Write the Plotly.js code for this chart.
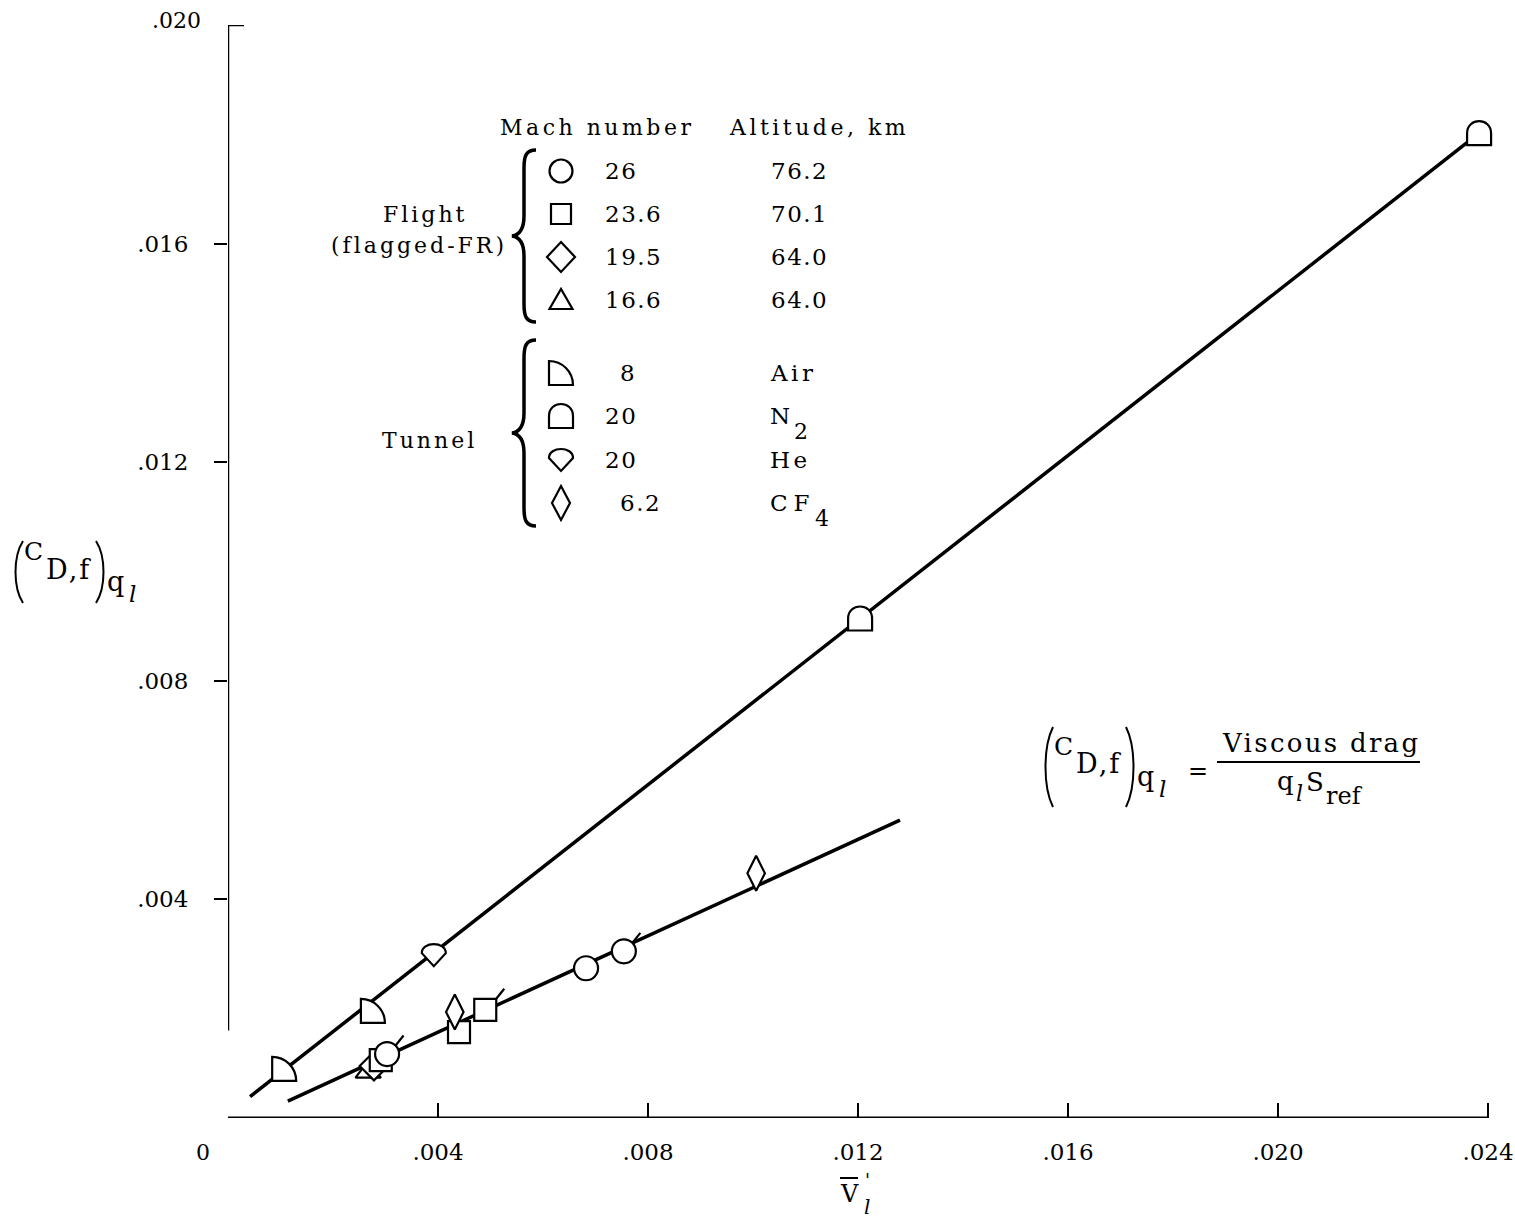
<!DOCTYPE html>
<html><head><meta charset="utf-8">
<script src="https://cdn.plot.ly/plotly-3.0.1.min.js"></script>
<style>html,body{margin:0;padding:0;background:#fff;}</style>
</head><body>
<div id="chart" style="width:1515px;height:1227px;"></div>
<script>
// ---------------- DATA ----------------
// Flight (flagged-FR) series: x = V'_l, y = (C_D,f)_ql
const flightM26_x   = [0.00303, 0.00682, 0.00754];
const flightM26_y   = [0.00117, 0.00274, 0.00305];
const flightM26_flag = [true, false, true];
const flightM236_x  = [0.00291, 0.00440, 0.00490];
const flightM236_y  = [0.00106, 0.00157, 0.00198];
const flightM236_flag = [false, false, true];
const flightM195_x  = [0.00278];
const flightM195_y  = [0.00095];
const flightM166_x  = [0.00267];
const flightM166_y  = [0.00084];
// Tunnel series
const tunnelAir_x = [0.00107, 0.00276];
const tunnelAir_y = [0.00090, 0.00196];
const tunnelN2_x  = [0.01204, 0.02383];
const tunnelN2_y  = [0.00914, 0.01802];
const tunnelHe_x  = [0.00392];
const tunnelHe_y  = [0.00298];
const tunnelCF4_x = [0.00432, 0.01006];
const tunnelCF4_y = [0.00194, 0.00448];
// Faired lines
const upperLine_x = [0.00042, 0.02383];
const upperLine_y = [0.00039, 0.01802];
const lowerLine_x = [0.00114, 0.01280];
const lowerLine_y = [0.00031, 0.00545];
// Ticks
const xTickVals = [0.004, 0.008, 0.012, 0.016, 0.020, 0.024];
const xTickText = ['.004', '.008', '.012', '.016', '.020', '.024'];
const yTickVals = [0.004, 0.008, 0.012, 0.016];
const yTickText = ['.004', '.008', '.012', '.016'];
// Legend content
const flightMach = ['26', '23.6', '19.5', '16.6'];
const flightAlt  = ['76.2', '70.1', '64.0', '64.0'];
const tunnelMach = ['8', '20', '20', '6.2'];
const tunnelGas  = ['Air', 'N', 'He', 'CF'];
const tunnelGasSub = ['', '2', '', '4'];

// ---------------- LAYOUT HELPERS ----------------
const SERIF = '"DejaVu Serif", "Liberation Serif", serif';
const W = 1515, H = 1227, M = {l: 228, r: 1, t: 25, b: 109};
const X_MAX = 0.024 * (W - M.l - M.r) / 1260;   // keeps .024 at the same place, leaves room for end marker
const PW = W - M.l - M.r, PH = H - M.t - M.b;
const pX = p => (p - M.l) / PW;
const pY = p => (H - M.b - p) / PH;
const LS = (t, s) => '<span style="letter-spacing:' + s + 'px">' + t + '</span>';
const F = s => ({family: SERIF, size: s, color: '#000'});

function circlePath(r) {
  const k = 0.5523 * r;
  return `M ${r},0 C ${r},${k} ${k},${r} 0,${r} C ${-k},${r} ${-r},${k} ${-r},0 C ${-r},${-k} ${-k},${-r} 0,${-r} C ${k},${-r} ${r},${-k} ${r},0 Z`;
}
const SYM = {
  circle: circlePath(11.5),
  square: 'M -10,-10 L 10,-10 L 10,10 L -10,10 Z',
  diamond: 'M 0,15 L 14,0 L 0,-15 L -14,0 Z',
  triangle: 'M -11.5,-9 L 11.5,-9 L 0,11 Z',
  air: 'M -12,-12 L 12,-12 C 12,1.25 1.25,12 -12,12 Z',
  n2: 'M -12,-12 L 12,-12 L 12,0 C 12,16 -12,16 -12,0 Z',
  he: 'M -12,2 C -12,14 12,14 12,2 L 0,-11 Z',
  cf4: 'M 0,17 L 9,0 L 0,-17 L -9,0 Z'
};
function symShape(sym, x, y, ref) {
  return {type: 'path', xref: ref ? 'paper' : 'x', yref: ref ? 'paper' : 'y',
    xsizemode: 'pixel', ysizemode: 'pixel', xanchor: x, yanchor: y,
    path: SYM[sym], fillcolor: '#fff', line: {color: '#000', width: 2.2}, layer: 'above'};
}
function pixPath(path, xp, yp, w) {
  return {type: 'path', xref: 'paper', yref: 'paper', xsizemode: 'pixel', ysizemode: 'pixel',
    xanchor: pX(xp), yanchor: pY(yp), path: path, fillcolor: 'rgba(0,0,0,0)',
    line: {color: '#000', width: w || 2}, layer: 'above'};
}
function bracePath(h) {
  const Hh = h / 2;
  return `M 24,${Hh} C 14,${Hh} 12,${Hh - 6} 12,${Hh - 18} L 12,20 C 12,7 7,1 0,0 C 7,-1 12,-7 12,-20 L 12,${-(Hh - 18)} C 12,${-(Hh - 6)} 14,${-Hh} 24,${-Hh}`;
}
const parenL = h => `M 5,${h/2} C -5,${h/4} -5,${-h/4} 5,${-h/2}`;
const parenR = h => `M -5,${h/2} C 5,${h/4} 5,${-h/4} -5,${-h/2}`;

function ann(text, xp, yp, opt) {
  return Object.assign({xref: 'paper', yref: 'paper', x: pX(xp), y: pY(yp), text: text,
    showarrow: false, xanchor: 'center', yanchor: 'middle', font: F(22)}, opt || {});
}

// ---------------- TRACES ----------------
const mk = (sym, size) => ({symbol: sym, size: size, color: '#fff', line: {color: '#000', width: 2.2}});
const traces = [
  {x: upperLine_x, y: upperLine_y, mode: 'lines', line: {color: '#000', width: 3.5}, name: 'Tunnel fairing'},
  {x: lowerLine_x, y: lowerLine_y, mode: 'lines', line: {color: '#000', width: 3.5}, name: 'Flight fairing'},
  {x: flightM166_x, y: flightM166_y, mode: 'markers', marker: mk('triangle-up', 22), name: 'M 16.6'},
  {x: flightM195_x, y: flightM195_y, mode: 'markers', marker: mk('diamond', 22), name: 'M 19.5'},
  {x: flightM236_x, y: flightM236_y, mode: 'markers', marker: mk('square', 22), name: 'M 23.6'},
  {x: flightM26_x, y: flightM26_y, mode: 'markers', marker: mk('circle', 24), name: 'M 26'},
  {x: tunnelCF4_x, y: tunnelCF4_y, mode: 'markers', marker: mk('diamond-tall', 25), name: 'CF4'}
];

// ---------------- SHAPES ----------------
const shapes = [];
// axis lines
shapes.push({type: 'line', xref: 'x', yref: 'y', x0: 0, x1: 0.024, y0: 0, y1: 0, line: {color: '#000', width: 3}, layer: 'below'});
shapes.push({type: 'line', xref: 'x', yref: 'y', x0: 0, x1: 0, y0: 0.0016, y1: 0.020, line: {color: '#000', width: 2.5}});
shapes.push({type: 'line', xref: 'x', yref: 'y', xsizemode: 'pixel', xanchor: 0, x0: 0, x1: 16, y0: 0.020, y1: 0.020, line: {color: '#000', width: 2.5}});
// custom tunnel markers
tunnelAir_x.forEach((x, i) => shapes.push(symShape('air', x, tunnelAir_y[i])));
tunnelN2_x.forEach((x, i) => shapes.push(symShape('n2', x, tunnelN2_y[i])));
tunnelHe_x.forEach((x, i) => shapes.push(symShape('he', x, tunnelHe_y[i])));
// flags on flagged flight points
function flag(x, y, d) {
  return {type: 'path', xref: 'x', yref: 'y', xsizemode: 'pixel', ysizemode: 'pixel', xanchor: x, yanchor: y,
    path: `M ${d},${d} L ${d + 8},${d + 10}`, line: {color: '#000', width: 2.2}, layer: 'above'};
}
flightM26_x.forEach((x, i) => { if (flightM26_flag[i]) shapes.push(flag(x, flightM26_y[i], 8.5)); });
flightM236_x.forEach((x, i) => { if (flightM236_flag[i]) shapes.push(flag(x, flightM236_y[i], 11)); });

// ---------------- LEGEND (drawn) ----------------
const annotations = [];
const legX = 561, numIntRight = 633, digitW = 15, altX = 769;
const flightRows = [171, 214, 257, 300];
const tunnelRows = [373, 416, 460, 503];
const flightSyms = ['circle', 'square', 'diamond', 'triangle'];
const tunnelSyms = ['air', 'n2', 'he', 'cf4'];
annotations.push(ann(LS('Mach number', 3.5), 498, 127, {xanchor: 'left'}));
annotations.push(ann(LS('Altitude, km', 3.5), 727, 127, {xanchor: 'left'}));
function numLeft(s) { const ip = s.split('.')[0]; return numIntRight - ip.length * digitW; }
flightMach.forEach((m, i) => {
  shapes.push(symShape(flightSyms[i], pX(legX), pY(flightRows[i]), true));
  annotations.push(ann(LS(m, 1.5), numLeft(m), flightRows[i], {xanchor: 'left', font: F(23)}));
  annotations.push(ann(LS(flightAlt[i], 1.5), altX, flightRows[i], {xanchor: 'left', font: F(23)}));
});
tunnelMach.forEach((m, i) => {
  shapes.push(symShape(tunnelSyms[i], pX(legX), pY(tunnelRows[i]), true));
  annotations.push(ann(LS(m, 1.5), numLeft(m), tunnelRows[i], {xanchor: 'left', font: F(23)}));
  const g = tunnelGas[i];
  annotations.push(ann(g.length > 1 ? LS(g, g === 'CF' ? 6 : 3.5) : g, altX, tunnelRows[i],
    {xanchor: 'left', font: F(23), borderpad: 0}));
  if (tunnelGasSub[i]) {
    const subX = g === 'CF' ? 822 : 801;
    annotations.push(ann(tunnelGasSub[i], subX, tunnelRows[i] + 15, {font: F(22), borderpad: 0}));
  }
});
annotations.push(ann(LS('Flight', 3), 425, 215));
annotations.push(ann(LS('(flagged-FR)', 3), 419, 245));
annotations.push(ann(LS('Tunnel', 3), 429, 440));
shapes.push(pixPath(bracePath(172), 512, 236, 3.5));
shapes.push(pixPath(bracePath(186), 512, 433, 3.5));

// ---------------- AXIS LABELS ----------------
annotations.push(ann('.020', 203, 20, {xanchor: 'right'}));
annotations.push(ann('0', 203, 1152));
// x title: V with overbar, prime, subscript l
annotations.push(ann('V', 849, 1194, {font: F(24)}));
shapes.push({type: 'line', xref: 'paper', yref: 'paper', x0: pX(840), x1: pX(858), y0: pY(1178), y1: pY(1178), line: {color: '#000', width: 2}});
annotations.push(ann("'", 867, 1180, {font: F(18)}));
annotations.push(ann('<i>l</i>', 867, 1207, {font: F(20)}));
// (C_D,f)_ql labels
function cdfLabel(x0, yc, ph) {
  shapes.push(pixPath(parenL(ph), x0, yc, 2));
  annotations.push(ann('C', x0 + 15, yc - 21, {font: F(25)}));
  annotations.push(ann(LS('D,f', 2), x0 + 50, yc - 3, {font: F(27)}));
  shapes.push(pixPath(parenR(ph), x0 + 83, yc, 2));
  annotations.push(ann('q', x0 + 97, yc + 9, {font: F(27)}));
  annotations.push(ann('<i>l</i>', x0 + 114, yc + 22, {font: F(23)}));
}
cdfLabel(18, 572, 62);
cdfLabel(1048, 767, 80);
annotations.push(ann('=', 1198, 771, {font: F(24)}));
annotations.push(ann(LS('Viscous drag', 2.3), 1321, 743, {font: F(26)}));
shapes.push({type: 'line', xref: 'paper', yref: 'paper', x0: pX(1217), x1: pX(1420), y0: pY(762), y1: pY(762), line: {color: '#000', width: 2}});
annotations.push(ann('q', 1285, 781, {font: F(26)}));
annotations.push(ann('<i>l</i>', 1299, 793, {font: F(22)}));
annotations.push(ann('S', 1315, 782, {font: F(26)}));
annotations.push(ann('ref', 1344, 796, {font: F(24)}));

const layout = {
  width: W, height: H, margin: M, showlegend: false,
  paper_bgcolor: '#fff', plot_bgcolor: '#fff',
  font: F(22),
  xaxis: {range: [0, X_MAX], tickvals: xTickVals, ticktext: xTickText, ticks: 'inside', ticklen: 15, tickwidth: 2.5,
    tickcolor: '#000', showline: false, showgrid: false, zeroline: false,
    ticklabelstandoff: 18, tickfont: F(23)},
  yaxis: {range: [0, 0.020], tickvals: yTickVals, ticktext: yTickText, ticks: 'outside', ticklen: 13, tickwidth: 2,
    tickcolor: '#000', showline: false, showgrid: false, zeroline: false,
    ticklabelstandoff: 21, tickfont: F(23)},
  shapes: shapes, annotations: annotations
};
Plotly.newPlot('chart', traces, layout, {staticPlot: true, displayModeBar: false});
</script>
</body></html>
